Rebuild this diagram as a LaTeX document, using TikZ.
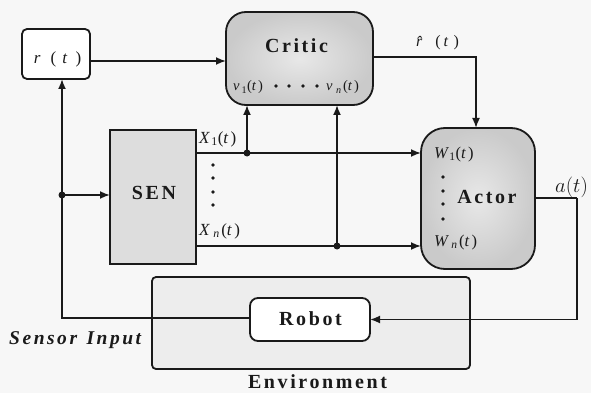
\documentclass[tikz,border=0pt]{standalone}
\usepackage{fontspec}
\setmainfont{Liberation Serif}[LetterSpace=13]
\usetikzlibrary{arrows.meta,calc}
\definecolor{bgc}{HTML}{F7F7F7}
\definecolor{ink}{HTML}{1A1A1A}
\definecolor{boxin}{HTML}{E8E8E8}
\definecolor{boxout}{HTML}{CACACA}
\definecolor{senfill}{HTML}{DDDDDD}
\definecolor{envfill}{HTML}{EDEDED}
\begin{document}
\begin{tikzpicture}[x=1pt,y=-1pt,
  line/.style={draw=ink,line width=1.8pt},
  arr/.style={line,-{Latex[length=10pt,width=8pt]}},
  blk/.style={line,inner sep=0pt,outer sep=0pt},
  soft/.style={blk,inner color=boxin,outer color=boxout},
  jdot/.style={circle,fill=ink,inner sep=0pt,minimum size=7pt},
  sdot/.style={circle,fill=ink,inner sep=0pt,minimum size=3.6pt},
  big/.style={font=\fontsize{20}{24}\selectfont\bfseries,text=ink,inner sep=0pt},
  lbl/.style={text=ink,inner sep=0pt,anchor=base west},
]
\fill[bgc] (0,0) rectangle (591,393);
\useasboundingbox (0,0) rectangle (591,393);

% blocks
\node[blk,rounded corners=5pt,fill=white,minimum width=68pt,minimum height=50pt] (rt) at (56,54) {};
\node[soft,rounded corners=20pt,minimum width=147pt,minimum height=93pt] (critic) at (299.5,58.5) {};
\node[blk,fill=senfill,minimum width=86pt,minimum height=134pt] (sen) at (153,197) {};
\node[soft,rounded corners=24pt,minimum width=114pt,minimum height=141pt] (actor) at (478,198.5) {};
\node[blk,rounded corners=4pt,fill=envfill,minimum width=318pt,minimum height=92pt] (env) at (311,323) {};

% junction coordinates
\coordinate (j1) at (247,153);
\coordinate (j2) at (337,246);
\coordinate (j3) at (62,195);
\coordinate (ac) at (577,198);

% connectors
\draw[arr] ([yshift=-7pt]rt.east) -- ([yshift=-7pt]rt.east -| critic.west);
\draw[arr] ([yshift=1.5pt]critic.east) -| (actor.north -| 476,0);
\draw[arr] (j1 -| sen.east) -- (j1 -| actor.west);
\draw[arr] (j2 -| sen.east) -- (j2 -| actor.west);
\draw[arr] (j1) -- (j1 |- critic.south);
\draw[arr] (j2) -- (j2 |- critic.south);
\draw[arr] (j3) -- (j3 -| sen.west);
\draw[arr] (312,318) -| ([xshift=6pt]rt.south);
\node[blk,rounded corners=8pt,fill=white,minimum width=120pt,minimum height=43pt] (robot) at (310,319.5) {};
\draw[line] (actor.east |- ac) -- (ac);
\draw[arr] (ac) |- (robot.east);
\node[jdot] at (j1) {};
\node[jdot] at (j2) {};
\node[jdot] at (j3) {};

% block titles
\node[big,anchor=base] (tcritic) at (296.5,53) {Critic};
\node[big,anchor=base] (tsen) at (154,199) {SEN};
\node[big,anchor=base] (tactor) at (487,203) {Actor};
\node[big,anchor=base] (trobot) at (310.5,325) {Robot};
\node[big,anchor=base] (tenv) at (317.5,388) {Environment};
\node[big,anchor=base west,font=\fontsize{19.5}{22}\selectfont\bfseries\itshape] (tsi) at (9,344) {Sensor\hspace{2pt} Input};

% signal labels
\node[lbl,anchor=base,font=\fontsize{17}{20}\selectfont] (lrt) at (57.5,64) {\textit{r}\hspace{8pt}(\hspace{6pt}\textit{t}\hspace{6pt})};
\node[lbl,anchor=base,font=\fontsize{16}{19}\selectfont] (lrh) at (437.5,47) {\textit{\^{r}}\hspace{5pt}(\hspace{3pt}\textit{t}\hspace{3pt})};
\node[lbl,font=\fontsize{17}{20}\selectfont] (lx1) at (199,143) {\textit{X}\kern-1pt\textsubscript{1}(\textit{t})};
\node[lbl,font=\fontsize{17}{20}\selectfont] (lxn) at (199,235) {\textit{X}\kern-1pt\textsubscript{\,\textit{n}}(\textit{t})};
\node[lbl,font=\fontsize{16.5}{19}\selectfont] (lw1) at (434,158) {\textit{W}\kern-2pt\textsubscript{1}(\textit{t})};
\node[lbl,font=\fontsize{16.5}{19}\selectfont] (lwn) at (434,246) {\textit{W}\kern-2pt\textsubscript{\,\textit{n}}(\textit{t})};
\node[lbl,font=\fontsize{21}{24}\selectfont] (lat) at (555,192) {$a(t)$};
\node[lbl,font=\fontsize{14.5}{17}\selectfont] (lv1) at (233,91) {\textit{v}\textsubscript{1}(\textit{t})};
\node[lbl,font=\fontsize{14.5}{17}\selectfont] (lvn) at (326,91) {\textit{v}\textsubscript{\,\textit{n}}(\textit{t})};

% dot columns
\foreach \xx in {276,289,303,317} \node[sdot] at (\xx,86) {};
\foreach \yy in {165,178,192,205} \node[sdot] at (213,\yy) {};
\foreach \yy in {177,191,204,219} \node[sdot] at (443,\yy) {};
\end{tikzpicture}
\end{document}
